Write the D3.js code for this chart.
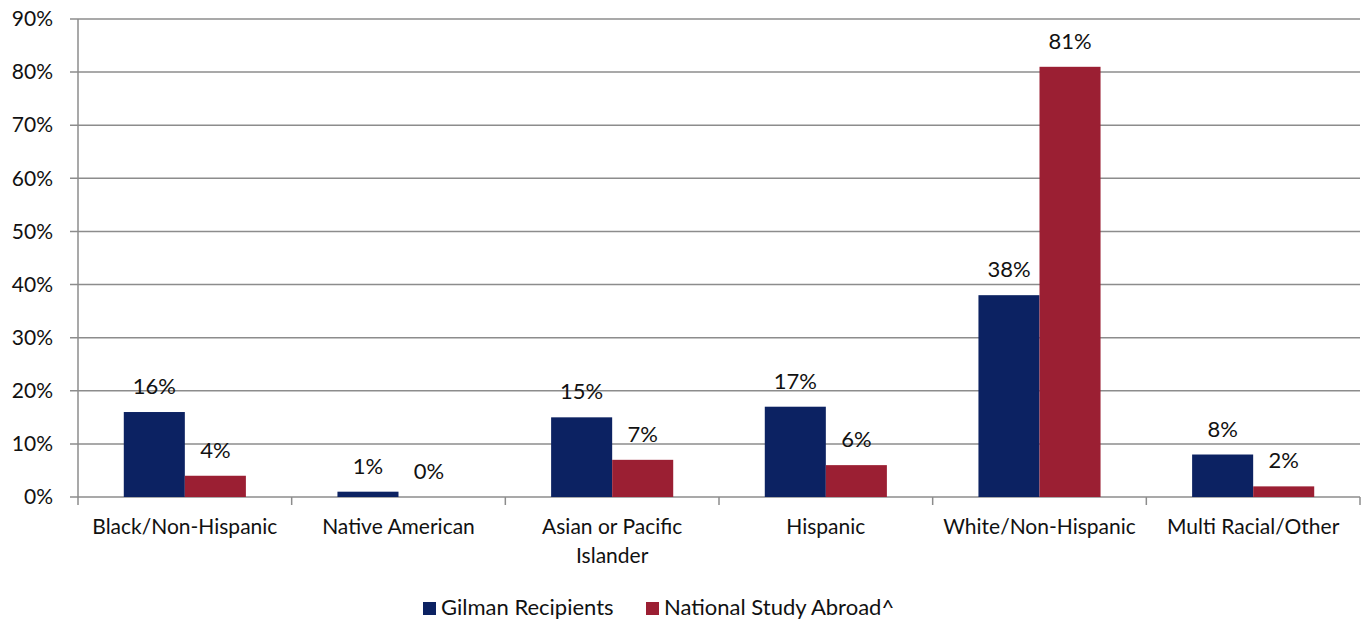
<!DOCTYPE html>
<html>
<head>
<meta charset="utf-8">
<script src="https://cdn.jsdelivr.net/npm/d3@7"></script>
<style>
  body { margin: 0; background: #fff; }
  text { font-family: Lato, "Open Sans", sans-serif; fill: #111; }
</style>
</head>
<body>
<script>
// Chart data
const categories = [
  "Black/Non-Hispanic",
  "Native American",
  "Asian or Pacific Islander",
  "Hispanic",
  "White/Non-Hispanic",
  "Multi Racial/Other"
];
const seriesNames = ["Gilman Recipients", "National Study Abroad^"];
const gilman = [16, 1, 15, 17, 38, 8];
const national = [4, 0, 7, 6, 81, 2];
const yTicks = [0, 10, 20, 30, 40, 50, 60, 70, 80, 90];
const colors = ["#0c2262", "#9b1f33"];

const width = 1361;
const height = 624;
const margin = { top: 19, right: 1, bottom: 127, left: 78 };
const innerW = width - margin.left - margin.right;
const innerH = height - margin.top - margin.bottom;

const svg = d3
  .select("body")
  .append("svg")
  .attr("width", width)
  .attr("height", height);

const g = svg
  .append("g")
  .attr("transform", `translate(${margin.left},${margin.top})`);

// Scales
const x0 = d3.scaleBand().domain(categories).range([0, innerW]).padding(0);
const x1 = d3
  .scaleBand()
  .domain(seriesNames)
  .range([0, x0.bandwidth()])
  .paddingInner(0)
  .paddingOuter(0.75);
const y = d3.scaleLinear().domain([0, 90]).range([innerH, 0]);

// Gridlines
g.append("g")
  .attr("class", "grid")
  .selectAll("line")
  .data(yTicks)
  .enter()
  .append("line")
  .attr("x1", -8)
  .attr("x2", innerW)
  .attr("y1", (d) => y(d))
  .attr("y2", (d) => y(d))
  .attr("stroke", "#8c8c8c")
  .attr("stroke-width", 1.5);

// Y axis
const yAxis = d3
  .axisLeft(y)
  .tickValues(yTicks)
  .tickFormat((d) => d + "%")
  .tickSize(0)
  .tickPadding(25);

const yg = g.append("g").call(yAxis);
yg.select(".domain").remove();
yg.selectAll("text")
  .style("font-family", "Lato, sans-serif")
  .style("font-size", "21px")
  .attr("fill", "#111");

g.append("line")
  .attr("x1", 0)
  .attr("x2", 0)
  .attr("y1", 0)
  .attr("y2", innerH)
  .attr("stroke", "#8c8c8c")
  .attr("stroke-width", 1.5);

// X axis ticks between categories
const boundaries = categories.map((c) => x0(c)).concat([innerW]);
g.append("g")
  .selectAll("line")
  .data(boundaries)
  .enter()
  .append("line")
  .attr("x1", (d) => d)
  .attr("x2", (d) => d)
  .attr("y1", innerH)
  .attr("y2", innerH + 8)
  .attr("stroke", "#8c8c8c")
  .attr("stroke-width", 1.5);

// Category labels, wrapped like the original
const labelLines = {
  "Asian or Pacific Islander": ["Asian or Pacific", "Islander"]
};
const xLabels = g
  .append("g")
  .selectAll("text")
  .data(categories)
  .enter()
  .append("text")
  .attr("x", (d) => x0(d) + x0.bandwidth() / 2)
  .attr("y", innerH + 37)
  .attr("text-anchor", "middle")
  .style("font-size", "21px");

xLabels.each(function (d) {
  const lines = labelLines[d] || [d];
  d3.select(this)
    .selectAll("tspan")
    .data(lines)
    .enter()
    .append("tspan")
    .attr("x", x0(d) + x0.bandwidth() / 2)
    .attr("dy", (l, i) => (i === 0 ? 0 : 29))
    .text((l) => l);
});

// Bars
const rows = categories.map((c, i) => ({
  category: c,
  values: [
    { series: seriesNames[0], value: gilman[i] },
    { series: seriesNames[1], value: national[i] }
  ]
}));

const groups = g
  .append("g")
  .selectAll("g")
  .data(rows)
  .enter()
  .append("g")
  .attr("transform", (d) => `translate(${x0(d.category)},0)`);

groups
  .selectAll("rect")
  .data((d) => d.values)
  .enter()
  .append("rect")
  .attr("x", (d) => x1(d.series))
  .attr("y", (d) => y(d.value))
  .attr("width", x1.bandwidth())
  .attr("height", (d) => innerH - y(d.value))
  .attr("fill", (d, i) => colors[i]);

// Value labels
groups
  .selectAll("text")
  .data((d) => d.values)
  .enter()
  .append("text")
  .attr("x", (d) => x1(d.series) + x1.bandwidth() / 2)
  .attr("y", (d) => y(d.value) - 18)
  .attr("text-anchor", "middle")
  .style("font-size", "22px")
  .text((d) => d.value + "%");

// Legend
const legend = svg.append("g").attr("transform", "translate(423, 602)");
const legendX = [0, 223];
seriesNames.forEach((name, i) => {
  const item = legend.append("g").attr("transform", `translate(${legendX[i]},0)`);
  item
    .append("rect")
    .attr("width", 13)
    .attr("height", 13)
    .attr("fill", colors[i]);
  item
    .append("text")
    .attr("x", 18)
    .attr("y", 13)
    .style("font-size", "22px")
    .text(name);
});
</script>
</body>
</html>
